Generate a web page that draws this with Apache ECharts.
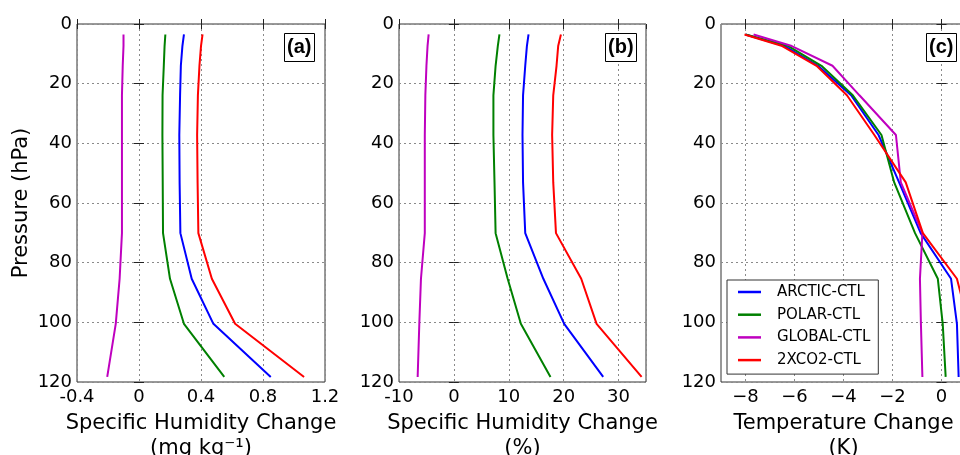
<!DOCTYPE html>
<html>
<head>
<meta charset="utf-8">
<script src="https://cdn.jsdelivr.net/npm/echarts@6/dist/echarts.min.js"></script>
<style>
html, body { margin: 0; padding: 0; background: #fff; }
#chart { width: 960px; height: 455px; }
</style>
</head>
<body>
<div id="chart"></div>
<script>
// model pressure levels (hPa)
var levels = [3.5, 7.4, 14.0, 23.9, 37.2, 53.1, 70.1, 85.4, 100.5, 118.3]
var runNames = ['ARCTIC-CTL', 'POLAR-CTL', 'GLOBAL-CTL', '2XCO2-CTL']
var runColors = ['#0000ff', '#008000', '#bf00bf', '#ff0000']

// (a) specific humidity change, mg/kg
var qAbsArctic = [0.29, 0.28, 0.27, 0.265, 0.26, 0.262, 0.267, 0.34, 0.48, 0.85]
var qAbsPolar = [0.17, 0.165, 0.16, 0.152, 0.151, 0.153, 0.155, 0.2, 0.29, 0.55]
var qAbsGlobal = [-0.1, -0.1, -0.105, -0.11, -0.11, -0.11, -0.11, -0.125, -0.15, -0.205]
var qAbs2xco2 = [0.41, 0.4, 0.39, 0.38, 0.375, 0.378, 0.383, 0.47, 0.62, 1.065]

// (b) specific humidity change, %
var qRelArctic = [13.6, 13.3, 13.0, 12.6, 12.5, 12.6, 13.0, 16.3, 20.1, 27.2]
var qRelPolar = [8.3, 8.0, 7.6, 7.2, 7.2, 7.4, 7.6, 9.8, 12.2, 17.6]
var qRelGlobal = [-4.6, -4.8, -5.0, -5.2, -5.3, -5.3, -5.3, -6.0, -6.3, -6.6]
var qRel2xco2 = [19.5, 19.0, 18.7, 18.1, 17.9, 18.1, 18.6, 23.2, 26.0, 34.2]

// (c) temperature change, K
var tArctic = [-8.0, -6.4, -5.04, -3.69, -2.57, -1.73, -0.85, 0.39, 0.63, 0.7]
var tPolar = [-8.0, -6.25, -4.9, -3.62, -2.45, -1.93, -1.08, -0.15, 0.05, 0.17]
var tGlobal = [-7.67, -6.11, -4.45, -3.35, -1.86, -1.66, -0.78, -0.88, -0.84, -0.78]
var t2xco2 = [-8.04, -6.5, -5.1, -3.86, -2.74, -1.46, -0.76, 0.63, 1.1, 1.2]

var tempTicks = [-8, -6, -4, -2, 0]

var panels = [
  { tag: '(a)', runs: [qAbsArctic, qAbsPolar, qAbsGlobal, qAbs2xco2], min: -0.4, max: 1.2, interval: 0.4,
    name: 'Specific Humidity Change\n(mg kg\u207B\u00B9)' },
  { tag: '(b)', runs: [qRelArctic, qRelPolar, qRelGlobal, qRel2xco2], min: -10, max: 35, interval: 10,
    name: 'Specific Humidity Change\n(%)' },
  { tag: '(c)', runs: [tArctic, tPolar, tGlobal, t2xco2], min: -9, max: 1, custom: tempTicks,
    name: 'Temperature Change\n(K)' },
]

var FONT = 'DejaVu Sans'
var grids = [
  { left: 77, top: 24, width: 248, height: 358 },
  { left: 399, top: 24, width: 247, height: 358 },
  { left: 721, top: 24, width: 245, height: 358 },
]
var tagPos = [284, 605, 926]

var myChart = echarts.init(document.getElementById('chart'))

var gridLine = { show: true, lineStyle: { color: '#8a8a8a', width: 1, type: [2, 3] } }
var tick = { show: true, inside: true, length: 5, lineStyle: { color: '#222' } }

var xAxes = []
var yAxes = []
var series = []
var titles = []

panels.forEach(function (p, i) {
  var minus = i === 2
  var xa = {
    type: 'value', gridIndex: i, position: 'bottom', min: p.min, max: p.max,
    axisLine: { show: false },
    axisTick: tick,
    splitLine: gridLine,
    axisLabel: {
      color: '#000', fontSize: 18, fontFamily: FONT, margin: 6,
      showMaxLabel: i !== 1,
      formatter: function (v) {
        if (minus && v < 0) return '\u2212' + (-v)
        return String(Math.round(v * 10) / 10)
      },
    },
    name: p.name, nameLocation: 'middle', nameGap: 26,
    nameTextStyle: { color: '#000', fontSize: 21, fontFamily: FONT, lineHeight: 25 },
  }
  var xTop = {
    type: 'value', gridIndex: i, position: 'top', min: p.min, max: p.max,
    axisLine: { show: false }, axisTick: tick, axisLabel: { show: false }, splitLine: { show: false },
  }
  if (p.custom) {
    xa.axisTick = Object.assign({}, tick, { customValues: p.custom })
    xa.axisLabel.customValues = p.custom
    xTop.axisTick = Object.assign({}, tick, { customValues: p.custom })
  } else {
    xa.interval = p.interval
    xTop.interval = p.interval
  }
  xAxes.push(xa, xTop)

  yAxes.push({
    type: 'value', gridIndex: i, inverse: true, min: 0, max: 120, interval: 20, position: 'left',
    axisLine: { show: false }, axisTick: tick, splitLine: gridLine,
    axisLabel: { color: '#000', fontSize: 18, fontFamily: FONT, margin: 5 },
    name: i === 0 ? 'Pressure (hPa)' : '', nameLocation: 'middle', nameGap: 45, nameRotate: 90,
    nameTextStyle: { color: '#000', fontSize: 21, fontFamily: FONT },
  }, {
    type: 'value', gridIndex: i, inverse: true, min: 0, max: 120, interval: 20, position: 'right',
    axisLine: { show: false }, axisTick: tick, axisLabel: { show: false }, splitLine: { show: false },
  })

  p.runs.forEach(function (vals, k) {
    series.push({
      name: runNames[k], type: 'line', xAxisIndex: i * 2, yAxisIndex: i * 2,
      symbol: 'none', color: runColors[k],
      lineStyle: { width: 2, color: runColors[k] },
      data: levels.map(function (lev, j) { return [vals[j], lev] }),
    })
  })

  titles.push({
    text: p.tag, left: tagPos[i], top: 33, padding: [4, 3],
    borderColor: '#000', borderWidth: 1, backgroundColor: '#fff',
    textStyle: { fontSize: 20, fontWeight: 'bold', fontFamily: 'Liberation Sans', color: '#000', lineHeight: 21 },
  })
})

var option = {
  animation: false,
  backgroundColor: '#fff',
  title: titles,
  grid: grids.map(function (g) {
    return Object.assign({ show: true, borderColor: '#333', borderWidth: 1, containLabel: false, outerBoundsMode: 'none' }, g)
  }),
  xAxis: xAxes,
  yAxis: yAxes,
  legend: {
    data: runNames, orient: 'vertical', left: 727, top: 280,
    icon: 'rect', itemWidth: 23, itemHeight: 2.5, itemGap: 2.7,
    padding: [2, 8, 4, 11],
    borderColor: '#333', borderWidth: 1, backgroundColor: '#fff',
    textStyle: { fontSize: 15, fontFamily: FONT, color: '#000', lineHeight: 20, padding: [0, 0, 0, 11] },
  },
  series: series,
}

myChart.setOption(option)
</script>
</body>
</html>
